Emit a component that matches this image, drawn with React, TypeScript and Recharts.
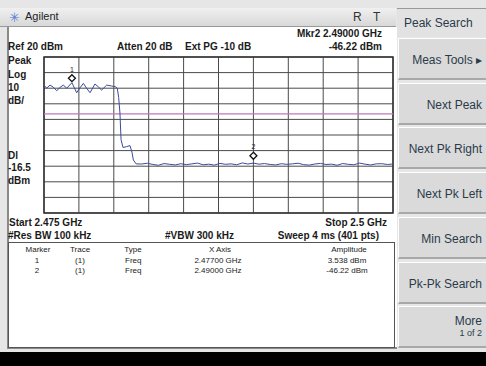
import { CartesianGrid, Line, LineChart, ReferenceArea, ReferenceDot, ReferenceLine, XAxis, YAxis } from 'recharts'

// sweep 2.475 - 2.5 GHz
const freqGHz = [
  2.475, 2.47519, 2.47543, 2.47565, 2.47591, 2.47615, 2.47638, 2.47663, 2.477, 2.47734,
  2.4776, 2.47782, 2.47805, 2.4783, 2.47865, 2.4789, 2.47913, 2.47949, 2.47985, 2.4801,
  2.48025, 2.48035, 2.48044, 2.48052, 2.48066, 2.4809, 2.48116, 2.4813, 2.4814, 2.4816,
  2.482, 2.4824, 2.4828, 2.4832, 2.4836, 2.484, 2.4844, 2.4848, 2.4852, 2.4856,
  2.486, 2.4864, 2.4868, 2.4872, 2.4876, 2.488, 2.4884, 2.4888, 2.4892, 2.4896,
  2.49, 2.4904, 2.4908, 2.4912, 2.4916, 2.492, 2.4924, 2.4928, 2.4932, 2.4936,
  2.494, 2.4944, 2.4948, 2.4952, 2.4956, 2.496, 2.4964, 2.4968, 2.4972, 2.4976,
  2.498, 2.4984, 2.4988, 2.4992, 2.4996, 2.5,
]
const traceDbm = [
  2.0, 0.0, 2.0, 0.8, -1.6, 0.5, 2.0, 0.0, 3.54, -2.9,
  0.5, 3.1, 0.0, -2.9, 2.7, 0.8, -1.2, 2.0, 1.4, 1.0,
  0.0, -6.0, -15.9, -33.0, -38.0, -37.5, -36.8, -41.0, -46.0, -48.5,
  -48.6, -48.1, -48.9, -49.4, -48.3, -48.8, -49.2, -48.4, -49.0, -48.5,
  -48.0, -49.1, -48.7, -49.3, -48.2, -48.8, -48.5, -49.1, -47.9, -48.6,
  -48.0, -48.7, -48.3, -48.9, -49.2, -48.4, -48.8, -48.5, -48.1, -49.0,
  -49.3, -48.6, -48.2, -48.9, -48.7, -49.4, -48.3, -48.8, -49.1, -48.0,
  -48.7, -49.2, -48.5, -48.4, -48.9, -48.6,
]
const freqTicks = [2.475, 2.4775, 2.48, 2.4825, 2.485, 2.4875, 2.49, 2.4925, 2.495, 2.4975, 2.5]
const dbmTicks = [20, 10, 0, -10, -20, -30, -40, -50, -60, -70, -80]
const displayLine = -16.5
const markers = [
  { id: '1', freq: 2.477, amp: 3.538, x: '2.47700 GHz', a: '3.538 dBm' },
  { id: '2', freq: 2.49, amp: -46.22, x: '2.49000 GHz', a: '-46.22 dBm' },
]
const softkeys = ['Meas Tools', 'Next Peak', 'Next Pk Right', 'Next Pk Left', 'Min Search', 'Pk-Pk Search', 'More']

const data = freqGHz.map((f, i) => ({ f, dbm: traceDbm[i] }))

const font = '"Liberation Sans", Arial, sans-serif'

function Txt({ x, y, children, right, size = 10, bold = true, color = '#1a1a1a' }: any) {
  return (
    <div
      style={{
        position: 'absolute',
        top: y - size * 0.6,
        left: right ? undefined : x,
        right: right ? 486 - x : undefined,
        fontSize: size,
        fontWeight: bold ? 700 : 400,
        color,
        whiteSpace: 'nowrap',
        lineHeight: `${size * 1.2}px`,
      }}
    >
      {children}
    </div>
  )
}

function Diamond({ cx, cy, label }: any) {
  return (
    <g>
      <path d={`M${cx},${cy - 8} L${cx + 3.5},${cy - 4.5} L${cx},${cy - 1} L${cx - 3.5},${cy - 4.5} Z`} fill="#fff" stroke="#111" strokeWidth={1.3} />
      <text x={cx} y={cy - 11} fontSize={7} textAnchor="middle" fill="#222" fontFamily={font}>
        {label}
      </text>
    </g>
  )
}

export default function App() {
  return (
    <div style={{ position: 'absolute', left: 0, top: 0, width: 486, height: 366, background: '#e6e6e6', overflow: 'hidden', fontFamily: font }}>
      {/* title bar */}
      <div style={{ position: 'absolute', left: 0, top: 8, width: 396, height: 18, background: 'linear-gradient(#f0f0f0, #d8d8d8)', borderBottom: '1px solid #999' }} />
      <div style={{ position: 'absolute', left: 9, top: 10, fontSize: 13, color: '#5a7ed8' }}>✳</div>
      <Txt x={25} y={17} size={11} bold={false} color="#222">Agilent</Txt>
      <Txt x={353} y={17} size={12} bold={false} color="#333">R</Txt>
      <Txt x={373} y={17} size={12} bold={false} color="#333">T</Txt>

      {/* main panel */}
      <div style={{ position: 'absolute', left: 7, top: 27, width: 388, height: 320, background: '#fff', borderLeft: '2px solid #8a8a8a', borderBottom: '2px solid #8a8a8a' }} />
      <div style={{ position: 'absolute', left: 8, top: 242, width: 385, height: 104, border: '1px solid #555', background: '#fff' }} />
      <div style={{ position: 'absolute', left: 0, top: 352, width: 486, height: 14, background: '#000' }} />

      <Txt x={382} y={34} right>Mkr2  2.49000 GHz</Txt>
      <Txt x={8} y={47}>Ref 20 dBm</Txt>
      <Txt x={117} y={47}>Atten 20 dB</Txt>
      <Txt x={185} y={47}>Ext PG -10 dB</Txt>
      <Txt x={382} y={47} right>-46.22 dBm</Txt>
      <Txt x={8} y={61}>Peak</Txt>
      <Txt x={8} y={75}>Log</Txt>
      <Txt x={8} y={88}>10</Txt>
      <Txt x={8} y={101}>dB/</Txt>
      <Txt x={8} y={156}>Dl</Txt>
      <Txt x={8} y={168}>-16.5</Txt>
      <Txt x={8} y={181}>dBm</Txt>
      <Txt x={9} y={223}>Start 2.475 GHz</Txt>
      <Txt x={387} y={223} right>Stop 2.5 GHz</Txt>
      <Txt x={8} y={236}>#Res BW 100 kHz</Txt>
      <Txt x={165} y={236}>#VBW 300 kHz</Txt>
      <Txt x={379} y={236} right>Sweep 4 ms (401 pts)</Txt>

      {/* marker table */}
      {[
        ['Marker', 38],
        ['Trace', 80],
        ['Type', 133],
        ['X Axis', 220],
        ['Amplitude', 349],
      ].map(([t, x]) => (
        <div key={t as string} style={{ position: 'absolute', left: (x as number) - 30, width: 60, top: 245, textAlign: 'center', fontSize: 8, color: '#222' }}>
          {t}
        </div>
      ))}
      {markers.map((m, i) => (
        <div key={m.id}>
          <div style={{ position: 'absolute', left: 17, width: 40, top: 256 + i * 10, textAlign: 'center', fontSize: 8, color: '#222' }}>{m.id}</div>
          <div style={{ position: 'absolute', left: 60, width: 40, top: 256 + i * 10, textAlign: 'center', fontSize: 8, color: '#222' }}>(1)</div>
          <div style={{ position: 'absolute', left: 125, top: 256 + i * 10, fontSize: 8, color: '#222' }}>Freq</div>
          <div style={{ position: 'absolute', left: 178, width: 80, top: 256 + i * 10, textAlign: 'center', fontSize: 8, color: '#222' }}>{m.x}</div>
          <div style={{ position: 'absolute', left: 307, width: 80, top: 256 + i * 10, textAlign: 'center', fontSize: 8, color: '#222' }}>{m.a}</div>
        </div>
      ))}

      {/* softkeys */}
      <div style={{ position: 'absolute', left: 397, top: 8, width: 89, height: 28, background: '#e2e2e2', borderTop: '1px solid #999' }} />
      <Txt x={404} y={23} size={12} bold={false} color="#2b3a4a">Peak Search</Txt>
      {softkeys.map((k, i) => (
        <div
          key={k}
          style={{
            position: 'absolute',
            left: 398,
            top: 38 + i * 44.7,
            width: 90,
            height: 42,
            background: '#dadada',
            borderTop: '1px solid #fff',
            borderLeft: '1px solid #fff',
            borderBottom: '2px solid #a8a8a8',
            boxSizing: 'border-box',
          }}
        >
          <div style={{ position: 'absolute', right: 6, top: k === 'More' ? 7 : 14, fontSize: 12, color: '#2b3a4a', whiteSpace: 'nowrap', textAlign: 'right' }}>
            {k}
            {k === 'Meas Tools' ? ' ▸' : ''}
            {k === 'More' ? <div style={{ fontSize: 9 }}>1 of 2</div> : null}
          </div>
        </div>
      ))}

      <LineChart width={486} height={366} data={data} margin={{ top: 57, right: 93, bottom: 153, left: 44 }} style={{ position: 'absolute', left: 0, top: 0 }}>
        <XAxis dataKey="f" type="number" domain={[2.475, 2.5]} ticks={freqTicks} interval={0} hide />
        <YAxis type="number" domain={[-80, 20]} ticks={dbmTicks} interval={0} hide />
        <CartesianGrid stroke="#4a4a4a" strokeWidth={1} />
        <ReferenceArea x1={2.475} x2={2.5} y1={-80} y2={20} fill="none" stroke="#333" strokeWidth={1.5} />
        <ReferenceLine y={displayLine} stroke="#c477b8" strokeWidth={1.3} />
        <Line dataKey="dbm" type="linear" stroke="#3b4c9c" strokeWidth={1} dot={false} isAnimationActive={false} />
        {markers.map((m) => (
          <ReferenceDot key={m.id} x={m.freq} y={m.amp} r={3} shape={(p: any) => <Diamond {...p} label={m.id} />} />
        ))}
      </LineChart>
    </div>
  )
}
